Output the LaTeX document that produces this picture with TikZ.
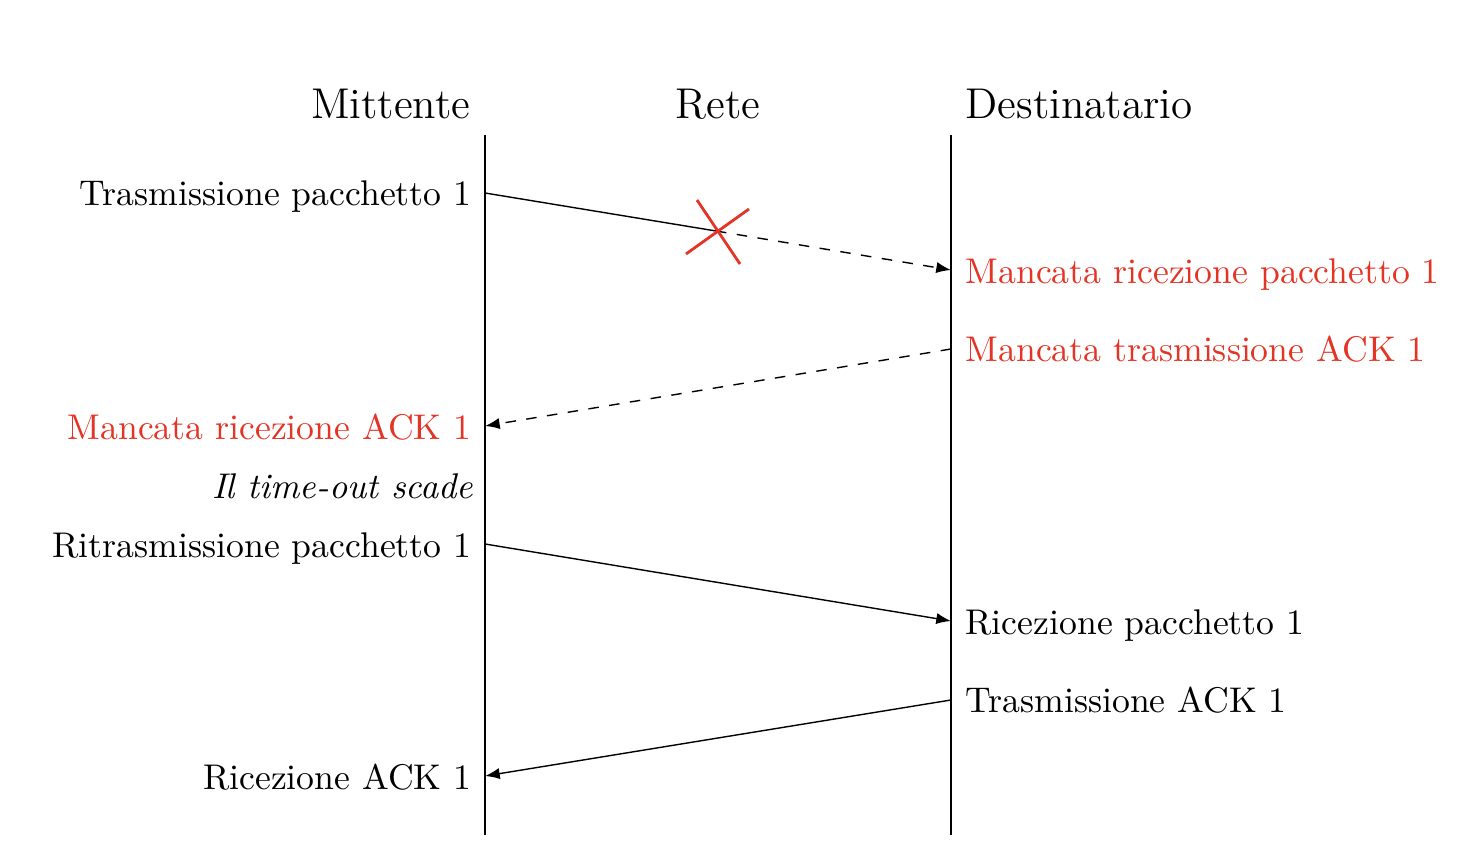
\documentclass[tikz,border=0pt]{standalone}
\usetikzlibrary{arrows.meta}
\definecolor{lossred}{RGB}{228,52,37}
\begin{document}
\begin{tikzpicture}[x=0.2857pt,y=-0.2857pt,
  lbl/.style={inner sep=0pt,font=\fontsize{10.2}{12}\selectfont},
  ttl/.style={inner sep=0pt,font=\fontsize{12.3}{14}\selectfont},
  msg/.style={line width=0.4pt,-{Latex[length=4.2pt,width=3.2pt]}},
  lifeline/.style={line width=0.4pt},
  cross/.style={lossred,line width=0.8pt}]
\useasboundingbox (0,0) rectangle (1472,852);
% lifelines
\coordinate (Ltop) at (485,135);
\coordinate (Lbot) at (485,835);
\coordinate (Rtop) at (951,135);
\coordinate (Rbot) at (951,835);
\draw[lifeline] (Ltop) -- (Lbot);
\draw[lifeline] (Rtop) -- (Rbot);
% titles
\node[ttl,anchor=base east] (mitt) at (471,119) {Mittente};
\node[ttl,anchor=base] (rete) at (718,119) {Rete};
\node[ttl,anchor=base west] (dest) at (965,119) {Destinatario};
% left labels
\node[lbl,anchor=base east] (t1) at (472,206) {Trasmissione pacchetto 1};
\node[lbl,anchor=base east,text=lossred] (mra) at (472,440) {Mancata ricezione ACK 1};
\node[lbl,anchor=base east] (to) at (474,499) {\itshape Il time-out scade};
\node[lbl,anchor=base east] (rt) at (472,558) {Ritrasmissione pacchetto 1};
\node[lbl,anchor=base east] (ra) at (472,790) {Ricezione ACK 1};
% right labels
\node[lbl,anchor=base west,text=lossred] (mrp) at (965,284) {Mancata ricezione pacchetto 1};
\node[lbl,anchor=base west,text=lossred] (mta) at (965,362) {Mancata trasmissione ACK 1};
\node[lbl,anchor=base west] (rp) at (965,635) {Ricezione pacchetto 1};
\node[lbl,anchor=base west] (ta) at (965,713) {Trasmissione ACK 1};
% message points
\coordinate (a1) at (485,193);
\coordinate (x1) at (716,231);
\coordinate (b1) at (951,270);
\coordinate (a2) at (951,349);
\coordinate (b2) at (485,426);
\coordinate (a3) at (485,544);
\coordinate (b3) at (951,621);
\coordinate (a4) at (951,700);
\coordinate (b4) at (485,776);
% messages
\draw[line width=0.4pt] (a1) -- (x1);
\draw[msg,dashed] (x1) -- (b1);
\draw[msg,dashed] (a2) -- (b2);
\draw[msg] (a3) -- (b3);
\draw[msg] (a4) -- (b4);
% cross
\coordinate (c1) at (697,200);
\coordinate (c2) at (740,264);
\coordinate (c3) at (686,254);
\coordinate (c4) at (749,209);
\draw[cross] (c1) -- (c2);
\draw[cross] (c3) -- (c4);
\end{tikzpicture}
\end{document}
